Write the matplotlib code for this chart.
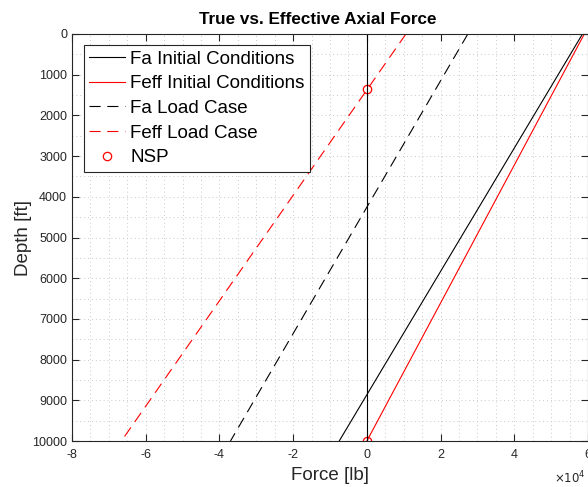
import numpy as np
import matplotlib
matplotlib.use('Agg')
import matplotlib.pyplot as plt
from matplotlib.ticker import MultipleLocator

plt.rcParams['font.family'] = ['Liberation Sans', 'DejaVu Sans']

# depth end points [ft]
depth = [0, 10000]

# force at top and bottom of string [lb]
fa_initial = [58500, -7500]
feff_initial = [59000, 0]
fa_load = [27400, -37000]
feff_load = [10600, -66600]

# neutral stability points
nsp_force = [0, 0]
nsp_depth = [10000, 1360]

fig = plt.figure(figsize=(5.88, 4.87), dpi=100)
ax = fig.add_axes([72 / 588, 1 - 441 / 487, 1 - 72 / 588, (441 - 34) / 487])

ax.plot(fa_initial, depth, color='k', lw=0.8, label='Fa Initial Conditions')
ax.plot(feff_initial, depth, color='r', lw=0.8, label='Feff Initial Conditions')
ax.plot(fa_load, depth, color='k', lw=0.8, ls=(0, (10, 6)), label='Fa Load Case')
ax.plot(feff_load, depth, color='r', lw=0.8, ls=(0, (10, 6)), label='Feff Load Case')
ax.plot(nsp_force, nsp_depth, 'o', mfc='none', mec='r', ms=6, mew=0.9, label='NSP')
ax.axvline(0, color='k', lw=0.8)

ax.set_xlim(-80000, 60000)
ax.set_ylim(10000, 0)
ax.xaxis.set_minor_locator(MultipleLocator(5000))
ax.yaxis.set_major_locator(MultipleLocator(1000))
ax.yaxis.set_minor_locator(MultipleLocator(500))
ax.set_xticks(np.arange(-80000, 60001, 20000))
ax.set_xticklabels([str(v) for v in range(-8, 7, 2)])

ax.grid(which='minor', color='#c8c8c8', ls=(0, (1, 3)), lw=0.7)
ax.grid(which='major', color='#c8c8c8', ls=(0, (1, 3)), lw=0.7)
ax.tick_params(which='both', direction='in', top=True, right=True,
               labelsize=9, colors='#262626', length=5)
ax.tick_params(axis='x', pad=6)
ax.tick_params(which='minor', length=0)
for s in ax.spines.values():
    s.set_color('#262626')
    s.set_linewidth(0.8)

ax.set_title('True vs. Effective Axial Force', fontsize=12.3, fontweight='bold',
             pad=7, x=0.477)
ax.set_xlabel('Force [lb]', fontsize=13.5, color='#262626', labelpad=4)
ax.set_ylabel('Depth [ft]', fontsize=13.5, color='#262626', labelpad=0)
ax.text(0.935, -0.09, r'$\times10^{4}$', transform=ax.transAxes, fontsize=8.5,
        color='#262626', ha='left', va='center')

leg = ax.legend(loc='upper left', bbox_to_anchor=(0.0225, 0.973), fontsize=13.5,
                fancybox=False, framealpha=1, edgecolor='#262626',
                borderaxespad=0, handlelength=1.9, labelspacing=0.4,
                borderpad=0.3, handletextpad=0.3)
leg.get_frame().set_linewidth(0.8)

fig.savefig('out.png', dpi=100)
